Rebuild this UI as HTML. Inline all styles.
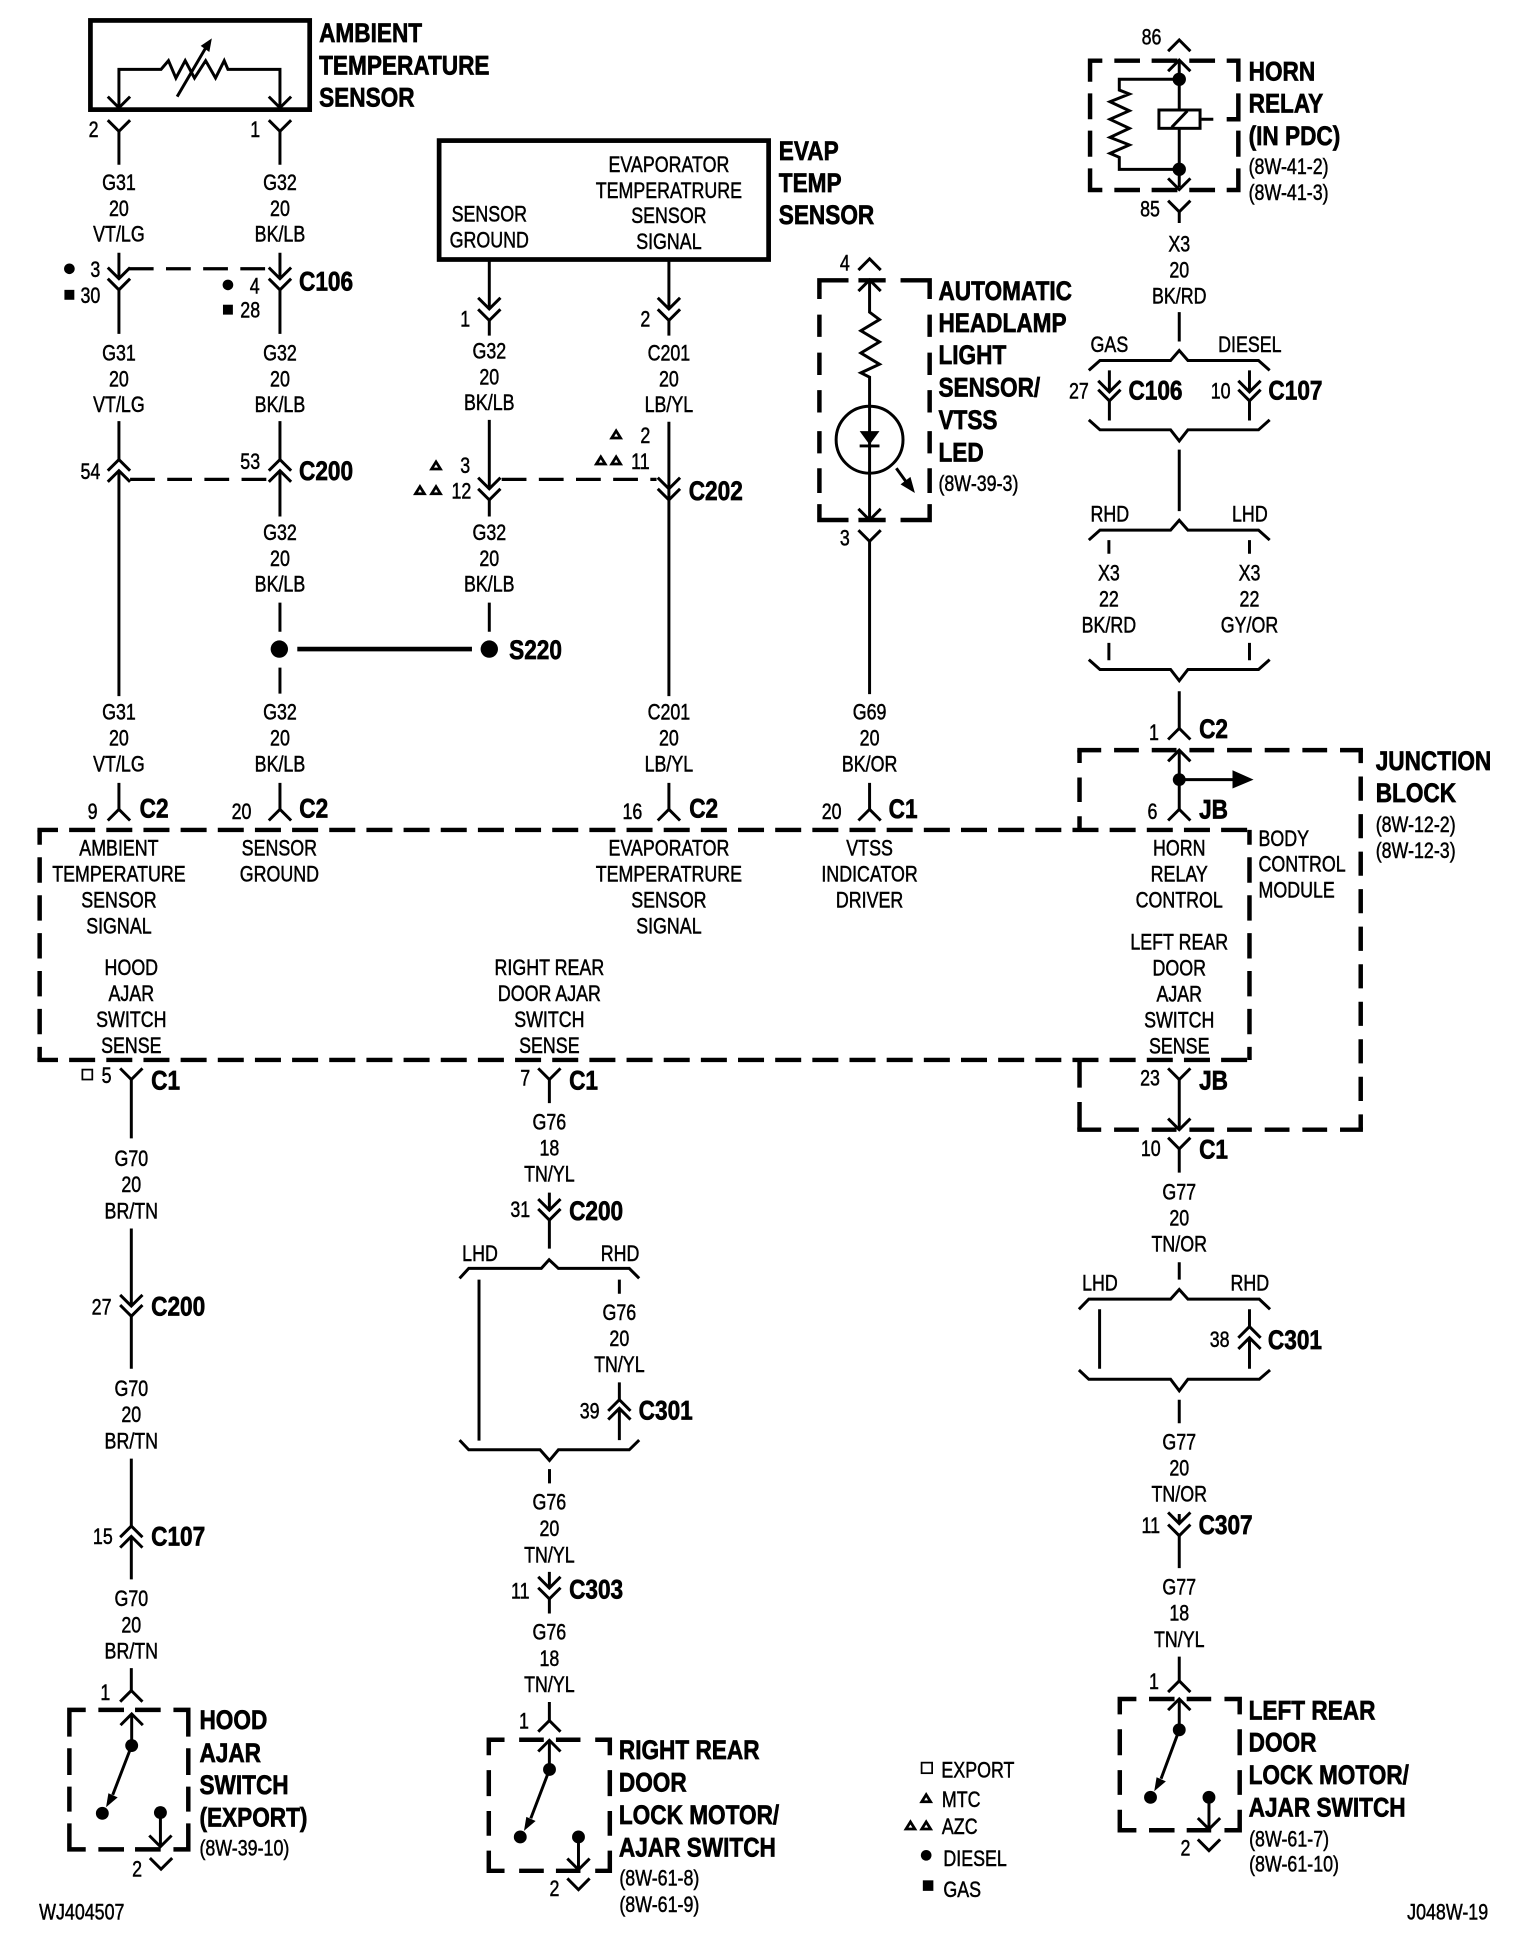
<!DOCTYPE html>
<html><head><meta charset="utf-8"><title>Wiring diagram</title>
<style>
html,body{margin:0;padding:0;background:#fff}
svg{display:block;width:1536px;height:1944px}
text{font-family:"Liberation Sans",sans-serif;font-size:18px;fill:#000;stroke:#000;stroke-width:.4}
.c{text-anchor:middle}
.b{font-weight:bold;font-size:22px;stroke-width:.55}
.w{fill:none;stroke:#000;stroke-width:2.4;stroke-linejoin:miter}
.k{fill:none;stroke:#000;stroke-width:3.8}
.e{fill:none;stroke:#000;stroke-width:3.6}
.s{fill:none;stroke:#000;stroke-width:2.6;stroke-dasharray:20 10}
</style></head><body>
<svg xmlns="http://www.w3.org/2000/svg" viewBox="0 0 1240 1569.4" width="1536" height="1944">
<defs>
<path id="v" class="w" d="M-9,-9L0,0L9,-9"/>
<path id="a" class="w" d="M-9,9L0,0L9,9"/>
<path id="t" d="M0,-3.2L3.6,2.6H-3.6Z" fill="#fff" stroke="#000" stroke-width="2.2"/>
<path id="bt" class="w" d="M-73,9L-64,1H-7L0,-7L7,1H64L73,9"/>
<path id="bb" class="w" d="M-73,-8L-64,0H-7L0,9L7,0H64L73,-8"/>
</defs>
<rect width="1240" height="1570" fill="#fff"/>

<!-- boxes -->
<rect x="73" y="16.5" width="177" height="72" class="k"/>
<rect x="354.5" y="113.5" width="266" height="96" class="k"/>
<!-- body control module -->
<path class="e" stroke-dasharray="21 9" stroke-dashoffset="4.4" d="M30.2,670H1010.5"/>
<path class="e" stroke-dasharray="21 9" stroke-dashoffset="4.4" d="M30.2,855.7H1010.5"/>
<path class="e" stroke-dasharray="20.5 10.1" stroke-dashoffset="8.5" d="M32,670V855.7"/>
<path class="e" stroke-dasharray="20.5 10.1" stroke-dashoffset="8.5" d="M1008.7,670V855.7"/>
<!-- junction block -->
<path class="e" stroke-dasharray="20 10.4" stroke-dashoffset=".7" d="M869.7,605.6H1100.3"/>
<path class="e" stroke-dasharray="20 10.4" stroke-dashoffset=".7" d="M869.7,912H1100.3"/>
<path class="e" stroke-dasharray="19.5 10.8" stroke-dashoffset="9" d="M1098.5,605.6V912"/>
<path class="e" d="M871.5,605.6V616M871.5,627.7V647.5M871.5,659V670M871.5,855.7V878M871.5,889.7V912"/>
<!-- horn relay box -->
<path class="e" d="M880,66V49H889.9M899.6,49H920.3M929.7,49H950.5M960.1,49H980.9M990.3,49H999.7V66
M880,75.4V96.3M999.7,75.4V96.3H990.3M880,105.5V126.5M999.7,105.5V126.5
M880,135.9V153.4H889.9M899.6,153.4H920.3M929.7,153.4H950.5M960.1,153.4H980.9M990.3,153.4H999.7V135.9"/>
<!-- headlamp box -->
<path class="e" d="M661.5,241.4V226.3H685M693,226.3H715M727,226.3H750.5V241.4
M661.5,254V272M750.5,254V272M661.5,284.7V302.7M750.5,284.7V302.7M661.5,315V333M750.5,315V333M661.5,348V366M750.5,348V366M661.5,378V398M750.5,378V398
M661.5,407V419.8H685M693,419.8H715M727,419.8H750.5V407"/>
<!-- hood switch box -->
<path class="e" d="M56,1402V1380.4H69.2M79.4,1380.4H100.1M109,1380.4H129.7M140,1380.4H152V1402
M56,1411.4V1433M152,1411.4V1433M56,1442.3V1462.5M152,1442.3V1462.5
M56,1472V1493H69.2M79.4,1493H100.1M109,1493H129.7M140,1493H152V1472"/>
<!-- right rear switch box -->
<path class="e" d="M394.6,1417V1404.5H407.3M419.1,1404.5H439M448.8,1404.5H468.6M480.5,1404.5H492.3V1417
M394.6,1429V1450M492.3,1429V1450M394.6,1462V1482M492.3,1462V1482
M394.6,1494V1510.3H407.3M419.1,1510.3H439M448.8,1510.3H468.6M480.5,1510.3H492.3V1494"/>
<!-- left rear switch box -->
<path class="e" d="M904,1384V1371.6H917.4M927.6,1371.6H948.2M958,1371.6H977.8M988.5,1371.6H1000.8V1384
M904,1396V1417M1000.8,1396V1417M904,1429V1449M1000.8,1429V1449
M904,1461V1477.6H917.4M927.6,1477.6H948.2M958,1477.6H977.8M988.5,1477.6H1000.8V1461"/>

<!-- dashed connector links -->
<path class="s" d="M104,217H219M105,387H216M405,387H530"/>

<!-- wires -->
<path class="w" d="M96,87V56H130L136,49L142,63L149.5,49L157,63L166,49L174,63L181,49L184,56H226V87
M96,106V133M96,204V225M96,234V269.5M96,340V371M96,380V562M96,632V653.4
M226,106V133M226,204V225M226,234V269.5M226,340V371M226,380V417M226,486.5V510M226,539V560M226,632V653.4
M395,210V249.4M395,258.7V271M395,339V394.6M395,403.6V417M395,486.5V510
M540,210V249.4M540,258.7V271M540,340.5V562M540,632V653.4
M702,226V252L710,258L695,267L710,276L695,285L710,294L695,301L702,304.5V420M702,437V560.4M702,632V653.4
M952,48.3V151M952,64H903.6V72.7L911.7,75.9L896.1,82.1L911.7,89.4L896.1,96.3L911.7,103.6L896.1,110.9L911.7,117L896.1,123.8L903.6,127V136.7H952
M970,96.3H979.5
M952,171V180M952,252V275.7
M895.6,299V316.4M895.6,323.6V339.5M1008.7,299V316.4M1008.7,323.6V339.5
M952,363V412.6M895.2,436V447M895.2,519V533M1008.7,436V447M1008.7,519V533
M952,558V588M952,605.6V653.4M952,629.4H996
M952,871.5V912M952,927.5V946.7M952,1019V1033M887.7,1057V1105M1008.7,1057V1071M1008.7,1080V1105M952,1130V1149
M952,1222.3V1230M952,1239.8V1266M952,1337.4V1357M952,1371.6V1396.5
M976,1451V1476.7
M106,871.5V919M106,991.8V1054.4M106,1062.6V1105M106,1177.6V1232M106,1240.4V1275M106,1346.7V1364.8M106.3,1383.7V1409M129.5,1463.3V1490.8
M443.5,871.5V890.6M443.5,962.8V977M443.5,985V1008M386.7,1033V1163M500,1033V1044.5M500,1116V1130M500,1137V1162.6M443.6,1186V1197.5
M443.5,1269V1282M443.5,1290.8V1302.6M443.5,1374V1389M443.5,1405V1428.5M467,1483V1509.4"/>
<!-- switch blades with arrowheads -->
<path class="w" d="M106.3,1409.2L91,1449M443.6,1428.5L428.5,1468M952,1396.5L937.3,1436"/>
<path d="M85.6,1459L87.5,1447.7L95,1451ZM423,1478.1L424.9,1466.8L432.4,1470.1ZM931.8,1446.1L933.7,1434.8L941.2,1438.1Z"/>
<path class="w" d="M143,78L167,37"/><path d="M171,31L162,37L169,42Z"/>
<circle cx="702" cy="355" r="27" class="w"/>
<path d="M694,348H710L702,359Z"/><path class="w" d="M694,360H710"/>
<path class="w" d="M723.6,378L733,391"/><path d="M738.6,398L727,391L735,385Z"/>
<rect x="935.6" y="88.8" width="33.2" height="14.8" fill="#fff" stroke="#000" stroke-width="2.4"/>
<path class="w" d="M945.9,102.8L958.5,89.6"/>
<path d="M995,621.8V636.6L1012,629.4Z"/>
<path class="k" d="M240,524H381"/>

<!-- dots -->
<g>
<circle cx="225.5" cy="524" r="7"/><circle cx="395" cy="524" r="7"/>
<circle cx="952" cy="64" r="5.4"/><circle cx="952" cy="136.7" r="5.4"/><circle cx="952" cy="629.4" r="5.2"/>
<circle cx="106.3" cy="1409.2" r="5.2"/><circle cx="82.6" cy="1463.9" r="5.2"/><circle cx="129.5" cy="1463.3" r="5.2"/>
<circle cx="443.6" cy="1428.5" r="5.2"/><circle cx="420" cy="1483" r="5.2"/><circle cx="467" cy="1483" r="5.2"/>
<circle cx="952" cy="1396.5" r="5.2"/><circle cx="928.8" cy="1451" r="5.2"/><circle cx="976" cy="1451" r="5.2"/>
<circle cx="56" cy="217" r="4.3"/><circle cx="184" cy="230" r="4.3"/>
<circle cx="747.7" cy="1497.8" r="4.3"/>
<rect x="52" y="234" width="8" height="8"/><rect x="180" y="246" width="8" height="8"/>
<rect x="745" y="1518" width="8.5" height="8.5"/>
</g>
<rect x="66.5" y="863.5" width="8" height="8" fill="#fff" stroke="#000" stroke-width="1.4"/>
<rect x="744" y="1423" width="8.5" height="8.5" fill="#fff" stroke="#000" stroke-width="1.4"/>
<use href="#t" x="352" y="376"/><use href="#t" x="339" y="396"/><use href="#t" x="352" y="396"/>
<use href="#t" x="497.4" y="351"/><use href="#t" x="485" y="372"/><use href="#t" x="497.4" y="372"/>
<use href="#t" x="747.7" y="1452"/><use href="#t" x="735" y="1474"/><use href="#t" x="747.7" y="1474"/>

<!-- chevrons -->
<use href="#v" x="96" y="87"/><use href="#v" x="226" y="87"/>
<use href="#v" x="96" y="106"/><use href="#v" x="226" y="106"/>
<use href="#v" x="96" y="225"/><use href="#v" x="96" y="234"/>
<use href="#v" x="226" y="225"/><use href="#v" x="226" y="234"/>
<use href="#a" x="96" y="371"/><use href="#a" x="96" y="380"/>
<use href="#a" x="226" y="371"/><use href="#a" x="226" y="380"/>
<use href="#v" x="395" y="249.4"/><use href="#v" x="395" y="258.7"/>
<use href="#v" x="540" y="249.4"/><use href="#v" x="540" y="258.7"/>
<use href="#v" x="395" y="394.6"/><use href="#v" x="395" y="403.6"/>
<use href="#v" x="540" y="394.6"/><use href="#v" x="540" y="403.6"/>
<use href="#a" x="96" y="653.4"/><use href="#a" x="226" y="653.4"/><use href="#a" x="540" y="653.4"/><use href="#a" x="702" y="653.4"/>
<use href="#a" x="952" y="653.4"/><use href="#a" x="952" y="588"/><use href="#a" x="952" y="605.6"/>
<use href="#a" x="702" y="209"/><use href="#a" x="702" y="226"/><use href="#v" x="702" y="419.8"/><use href="#v" x="702" y="437"/>
<use href="#a" x="952" y="32.3"/><use href="#a" x="952" y="48.5"/><use href="#v" x="952" y="153"/><use href="#v" x="952" y="171"/>
<use href="#v" x="895.6" y="316.4"/><use href="#v" x="895.6" y="323.6"/><use href="#v" x="1008.7" y="316.4"/><use href="#v" x="1008.7" y="323.6"/>
<use href="#v" x="106" y="871.5"/><use href="#v" x="443.5" y="871.5"/><use href="#v" x="952" y="871.5"/>
<use href="#v" x="952" y="912"/><use href="#v" x="952" y="927.5"/>
<use href="#v" x="443.5" y="977"/><use href="#v" x="443.5" y="985"/>
<use href="#v" x="106" y="1054.4"/><use href="#v" x="106" y="1062.6"/>
<use href="#a" x="106" y="1232"/><use href="#a" x="106" y="1240.4"/>
<use href="#a" x="106" y="1364.8"/><use href="#a" x="106.3" y="1383.7"/><use href="#v" x="129.5" y="1490.8"/><use href="#v" x="130" y="1509"/>
<use href="#a" x="500" y="1130"/><use href="#a" x="500" y="1137"/>
<use href="#v" x="443.5" y="1282"/><use href="#v" x="443.5" y="1290.8"/>
<use href="#a" x="443.5" y="1389"/><use href="#a" x="443.5" y="1405"/><use href="#v" x="467" y="1509.4"/><use href="#v" x="467" y="1525.5"/>
<use href="#a" x="1008.7" y="1071"/><use href="#a" x="1008.7" y="1080"/>
<use href="#v" x="952" y="1230"/><use href="#v" x="952" y="1239.8"/>
<use href="#a" x="952" y="1357"/><use href="#a" x="952" y="1371.6"/><use href="#v" x="976" y="1476.7"/><use href="#v" x="976" y="1494"/>

<!-- brackets -->
<use href="#bt" x="952" y="290"/><use href="#bb" x="952" y="347"/>
<use href="#bt" x="952" y="427"/><use href="#bb" x="952" y="540.5"/>
<path class="w" d="M371,1032L378.4,1024H437L443.3,1017L450.8,1024H508L516,1032"/>
<path class="w" d="M371,1162.6L378.4,1170.4H436L443.6,1179L450.8,1170.4H508L516,1162.6"/>
<path class="w" d="M871,1057L879,1048.8H945L952,1041L959,1048.8H1016.6L1025.3,1057"/>
<path class="w" d="M871,1106L879,1113.5H945L952,1122.8L959,1113.5H1016.6L1025.3,1106"/>

<!-- bold titles -->
<g>
<text class="b" transform="matrix(.83 0 0 1 257.6 34)">AMBIENT</text>
<text class="b" transform="matrix(.83 0 0 1 257.6 60)">TEMPERATURE</text>
<text class="b" transform="matrix(.83 0 0 1 257.6 86)">SENSOR</text>
<text class="b" transform="matrix(.83 0 0 1 628.7 129)">EVAP</text>
<text class="b" transform="matrix(.83 0 0 1 628.7 155)">TEMP</text>
<text class="b" transform="matrix(.83 0 0 1 628.7 181)">SENSOR</text>
<text class="b" transform="matrix(.83 0 0 1 757.6 242)">AUTOMATIC</text>
<text class="b" transform="matrix(.83 0 0 1 757.6 268)">HEADLAMP</text>
<text class="b" transform="matrix(.83 0 0 1 757.6 294)">LIGHT</text>
<text class="b" transform="matrix(.83 0 0 1 757.6 320)">SENSOR/</text>
<text class="b" transform="matrix(.83 0 0 1 757.6 346.4)">VTSS</text>
<text class="b" transform="matrix(.83 0 0 1 757.6 372.6)">LED</text>
<text class="b" transform="matrix(.83 0 0 1 1008 65)">HORN</text>
<text class="b" transform="matrix(.83 0 0 1 1008 91)">RELAY</text>
<text class="b" transform="matrix(.83 0 0 1 1008 117)">(IN PDC)</text>
<text class="b" transform="matrix(.83 0 0 1 1110.6 621.6)">JUNCTION</text>
<text class="b" transform="matrix(.83 0 0 1 1110.6 647.6)">BLOCK</text>
<text class="b" transform="matrix(.83 0 0 1 161 1396)">HOOD</text>
<text class="b" transform="matrix(.83 0 0 1 161 1422.4)">AJAR</text>
<text class="b" transform="matrix(.83 0 0 1 161 1448.4)">SWITCH</text>
<text class="b" transform="matrix(.83 0 0 1 161 1474.6)">(EXPORT)</text>
<text class="b" transform="matrix(.83 0 0 1 499.6 1420)">RIGHT REAR</text>
<text class="b" transform="matrix(.83 0 0 1 499.6 1446.2)">DOOR</text>
<text class="b" transform="matrix(.83 0 0 1 499.6 1472.4)">LOCK MOTOR/</text>
<text class="b" transform="matrix(.83 0 0 1 499.6 1498.6)">AJAR SWITCH</text>
<text class="b" transform="matrix(.83 0 0 1 1008 1388)">LEFT REAR</text>
<text class="b" transform="matrix(.83 0 0 1 1008 1414)">DOOR</text>
<text class="b" transform="matrix(.83 0 0 1 1008 1440.4)">LOCK MOTOR/</text>
<text class="b" transform="matrix(.83 0 0 1 1008 1466.4)">AJAR SWITCH</text>
<!-- connector ids -->
<text class="b" transform="matrix(.83 0 0 1 241.4 234.6)">C106</text>
<text class="b" transform="matrix(.83 0 0 1 241.4 387.5)">C200</text>
<text class="b" transform="matrix(.83 0 0 1 411 532)">S220</text>
<text class="b" transform="matrix(.83 0 0 1 556 403.7)">C202</text>
<text class="b" transform="matrix(.83 0 0 1 911 322.6)">C106</text>
<text class="b" transform="matrix(.83 0 0 1 1024 322.6)">C107</text>
<text class="b" transform="matrix(.83 0 0 1 968 595.6)">C2</text>
<text class="b" transform="matrix(.83 0 0 1 968 660.6)">JB</text>
<text class="b" transform="matrix(.83 0 0 1 112.7 660)">C2</text>
<text class="b" transform="matrix(.83 0 0 1 241.6 660)">C2</text>
<text class="b" transform="matrix(.83 0 0 1 556.4 660)">C2</text>
<text class="b" transform="matrix(.83 0 0 1 717.4 660.4)">C1</text>
<text class="b" transform="matrix(.83 0 0 1 122 879.5)">C1</text>
<text class="b" transform="matrix(.83 0 0 1 459.4 879.5)">C1</text>
<text class="b" transform="matrix(.83 0 0 1 968 879.5)">JB</text>
<text class="b" transform="matrix(.83 0 0 1 968 935.4)">C1</text>
<text class="b" transform="matrix(.83 0 0 1 459.4 985)">C200</text>
<text class="b" transform="matrix(.83 0 0 1 122 1062)">C200</text>
<text class="b" transform="matrix(.83 0 0 1 122 1247.6)">C107</text>
<text class="b" transform="matrix(.83 0 0 1 515.6 1146)">C301</text>
<text class="b" transform="matrix(.83 0 0 1 459.4 1290.6)">C303</text>
<text class="b" transform="matrix(.83 0 0 1 1023.6 1089)">C301</text>
<text class="b" transform="matrix(.83 0 0 1 967.6 1238.6)">C307</text>
</g>

<!-- wire labels -->
<g>
<text class="c" transform="matrix(.8 0 0 1 96 153.5)"><tspan x="0">G31</tspan><tspan x="0" dy="21">20</tspan><tspan x="0" dy="20.5">VT/LG</tspan></text>
<text class="c" transform="matrix(.8 0 0 1 226 153.5)"><tspan x="0">G32</tspan><tspan x="0" dy="21">20</tspan><tspan x="0" dy="20.5">BK/LB</tspan></text>
<text class="c" transform="matrix(.8 0 0 1 96 291)"><tspan x="0">G31</tspan><tspan x="0" dy="21">20</tspan><tspan x="0" dy="20.5">VT/LG</tspan></text>
<text class="c" transform="matrix(.8 0 0 1 226 291)"><tspan x="0">G32</tspan><tspan x="0" dy="21">20</tspan><tspan x="0" dy="20.5">BK/LB</tspan></text>
<text class="c" transform="matrix(.8 0 0 1 226 436)"><tspan x="0">G32</tspan><tspan x="0" dy="21">20</tspan><tspan x="0" dy="20.5">BK/LB</tspan></text>
<text class="c" transform="matrix(.8 0 0 1 395 289.5)"><tspan x="0">G32</tspan><tspan x="0" dy="21">20</tspan><tspan x="0" dy="20.5">BK/LB</tspan></text>
<text class="c" transform="matrix(.8 0 0 1 395 436)"><tspan x="0">G32</tspan><tspan x="0" dy="21">20</tspan><tspan x="0" dy="20.5">BK/LB</tspan></text>
<text class="c" transform="matrix(.8 0 0 1 540 291)"><tspan x="0">C201</tspan><tspan x="0" dy="21">20</tspan><tspan x="0" dy="20.5">LB/YL</tspan></text>
<text class="c" transform="matrix(.8 0 0 1 96 581)"><tspan x="0">G31</tspan><tspan x="0" dy="21">20</tspan><tspan x="0" dy="21">VT/LG</tspan></text>
<text class="c" transform="matrix(.8 0 0 1 226 581)"><tspan x="0">G32</tspan><tspan x="0" dy="21">20</tspan><tspan x="0" dy="21">BK/LB</tspan></text>
<text class="c" transform="matrix(.8 0 0 1 540 581)"><tspan x="0">C201</tspan><tspan x="0" dy="21">20</tspan><tspan x="0" dy="21">LB/YL</tspan></text>
<text class="c" transform="matrix(.8 0 0 1 702 581)"><tspan x="0">G69</tspan><tspan x="0" dy="21">20</tspan><tspan x="0" dy="21">BK/OR</tspan></text>
<text class="c" transform="matrix(.8 0 0 1 952 203)"><tspan x="0">X3</tspan><tspan x="0" dy="21">20</tspan><tspan x="0" dy="21">BK/RD</tspan></text>
<text class="c" transform="matrix(.8 0 0 1 895.2 468.5)"><tspan x="0">X3</tspan><tspan x="0" dy="21">22</tspan><tspan x="0" dy="21">BK/RD</tspan></text>
<text class="c" transform="matrix(.8 0 0 1 1008.7 468.5)"><tspan x="0">X3</tspan><tspan x="0" dy="21">22</tspan><tspan x="0" dy="21">GY/OR</tspan></text>
<text class="c" transform="matrix(.8 0 0 1 106 941.5)"><tspan x="0">G70</tspan><tspan x="0" dy="21">20</tspan><tspan x="0" dy="21">BR/TN</tspan></text>
<text class="c" transform="matrix(.8 0 0 1 106 1127)"><tspan x="0">G70</tspan><tspan x="0" dy="21">20</tspan><tspan x="0" dy="21.5">BR/TN</tspan></text>
<text class="c" transform="matrix(.8 0 0 1 106 1296.5)"><tspan x="0">G70</tspan><tspan x="0" dy="21.5">20</tspan><tspan x="0" dy="21">BR/TN</tspan></text>
<text class="c" transform="matrix(.8 0 0 1 443.5 912)"><tspan x="0">G76</tspan><tspan x="0" dy="21">18</tspan><tspan x="0" dy="21">TN/YL</tspan></text>
<text class="c" transform="matrix(.8 0 0 1 500 1065.5)"><tspan x="0">G76</tspan><tspan x="0" dy="21">20</tspan><tspan x="0" dy="21">TN/YL</tspan></text>
<text class="c" transform="matrix(.8 0 0 1 443.5 1218.5)"><tspan x="0">G76</tspan><tspan x="0" dy="21.5">20</tspan><tspan x="0" dy="21.5">TN/YL</tspan></text>
<text class="c" transform="matrix(.8 0 0 1 443.5 1323.5)"><tspan x="0">G76</tspan><tspan x="0" dy="21.5">18</tspan><tspan x="0" dy="21">TN/YL</tspan></text>
<text class="c" transform="matrix(.8 0 0 1 952 968.5)"><tspan x="0">G77</tspan><tspan x="0" dy="21">20</tspan><tspan x="0" dy="21">TN/OR</tspan></text>
<text class="c" transform="matrix(.8 0 0 1 952 1170)"><tspan x="0">G77</tspan><tspan x="0" dy="21">20</tspan><tspan x="0" dy="21">TN/OR</tspan></text>
<text class="c" transform="matrix(.8 0 0 1 952 1287.3)"><tspan x="0">G77</tspan><tspan x="0" dy="21">18</tspan><tspan x="0" dy="21.5">TN/YL</tspan></text>

<!-- module text -->
<text class="c" transform="matrix(.8 0 0 1 540 139)"><tspan x="0">EVAPORATOR</tspan><tspan x="0" dy="21">TEMPERATRURE</tspan><tspan x="0" dy="20">SENSOR</tspan><tspan x="0" dy="21">SIGNAL</tspan></text>
<text class="c" transform="matrix(.8 0 0 1 395 179)"><tspan x="0">SENSOR</tspan><tspan x="0" dy="21">GROUND</tspan></text>
<text class="c" transform="matrix(.8 0 0 1 96 690.5)"><tspan x="0">AMBIENT</tspan><tspan x="0" dy="21">TEMPERATURE</tspan><tspan x="0" dy="21">SENSOR</tspan><tspan x="0" dy="21">SIGNAL</tspan></text>
<text class="c" transform="matrix(.8 0 0 1 225.5 690.5)"><tspan x="0">SENSOR</tspan><tspan x="0" dy="21">GROUND</tspan></text>
<text class="c" transform="matrix(.8 0 0 1 540 690.5)"><tspan x="0">EVAPORATOR</tspan><tspan x="0" dy="21">TEMPERATRURE</tspan><tspan x="0" dy="21">SENSOR</tspan><tspan x="0" dy="21">SIGNAL</tspan></text>
<text class="c" transform="matrix(.8 0 0 1 702 690.5)"><tspan x="0">VTSS</tspan><tspan x="0" dy="21">INDICATOR</tspan><tspan x="0" dy="21">DRIVER</tspan></text>
<text class="c" transform="matrix(.8 0 0 1 952 690.5)"><tspan x="0">HORN</tspan><tspan x="0" dy="21">RELAY</tspan><tspan x="0" dy="21">CONTROL</tspan></text>
<text class="c" transform="matrix(.8 0 0 1 106 787)"><tspan x="0">HOOD</tspan><tspan x="0" dy="21">AJAR</tspan><tspan x="0" dy="21">SWITCH</tspan><tspan x="0" dy="21">SENSE</tspan></text>
<text class="c" transform="matrix(.8 0 0 1 443.5 787)"><tspan x="0">RIGHT REAR</tspan><tspan x="0" dy="21">DOOR AJAR</tspan><tspan x="0" dy="21">SWITCH</tspan><tspan x="0" dy="21">SENSE</tspan></text>
<text class="c" transform="matrix(.8 0 0 1 952 766.5)"><tspan x="0">LEFT REAR</tspan><tspan x="0" dy="21">DOOR</tspan><tspan x="0" dy="21">AJAR</tspan><tspan x="0" dy="21">SWITCH</tspan><tspan x="0" dy="21">SENSE</tspan></text>
<!-- bracket labels -->
<text class="c" transform="matrix(.8 0 0 1 895.6 284)">GAS</text>
<text class="c" transform="matrix(.8 0 0 1 1009 284)">DIESEL</text>
<text class="c" transform="matrix(.8 0 0 1 896 421)">RHD</text>
<text class="c" transform="matrix(.8 0 0 1 1009 421)">LHD</text>
<text class="c" transform="matrix(.8 0 0 1 387.5 1018)">LHD</text>
<text class="c" transform="matrix(.8 0 0 1 500.6 1018)">RHD</text>
<text class="c" transform="matrix(.8 0 0 1 888 1042)">LHD</text>
<text class="c" transform="matrix(.8 0 0 1 1009 1042)">RHD</text>
<!-- pin numbers -->
<text class="c" transform="matrix(.8 0 0 1 75.5 110.5)">2</text>
<text class="c" transform="matrix(.8 0 0 1 206 110.5)">1</text>
<text class="c" transform="matrix(.8 0 0 1 77 223.5)">3</text>
<text class="c" transform="matrix(.8 0 0 1 73 244.5)">30</text>
<text class="c" transform="matrix(.8 0 0 1 205.6 237)">4</text>
<text class="c" transform="matrix(.8 0 0 1 202 256.5)">28</text>
<text class="c" transform="matrix(.8 0 0 1 73 386.5)">54</text>
<text class="c" transform="matrix(.8 0 0 1 202 378.5)">53</text>
<text class="c" transform="matrix(.8 0 0 1 375.6 263.5)">1</text>
<text class="c" transform="matrix(.8 0 0 1 521 263.5)">2</text>
<text class="c" transform="matrix(.8 0 0 1 375.6 382)">3</text>
<text class="c" transform="matrix(.8 0 0 1 372.5 402.5)">12</text>
<text class="c" transform="matrix(.8 0 0 1 521 357.5)">2</text>
<text class="c" transform="matrix(.8 0 0 1 517 378.5)">11</text>
<text class="c" transform="matrix(.8 0 0 1 682 218.5)">4</text>
<text class="c" transform="matrix(.8 0 0 1 682 440.5)">3</text>
<text class="c" transform="matrix(.8 0 0 1 929.6 36)">86</text>
<text class="c" transform="matrix(.8 0 0 1 928.4 174.8)">85</text>
<text class="c" transform="matrix(.8 0 0 1 871 321.8)">27</text>
<text class="c" transform="matrix(.8 0 0 1 985.4 321.8)">10</text>
<text class="c" transform="matrix(.8 0 0 1 74.7 661)">9</text>
<text class="c" transform="matrix(.8 0 0 1 195 661)">20</text>
<text class="c" transform="matrix(.8 0 0 1 510.5 661)">16</text>
<text class="c" transform="matrix(.8 0 0 1 671.4 661)">20</text>
<text class="c" transform="matrix(.8 0 0 1 931.6 597.3)">1</text>
<text class="c" transform="matrix(.8 0 0 1 930.4 661)">6</text>
<text class="c" transform="matrix(.8 0 0 1 86 874.5)">5</text>
<text class="c" transform="matrix(.8 0 0 1 424 876.5)">7</text>
<text class="c" transform="matrix(.8 0 0 1 928.4 876.5)">23</text>
<text class="c" transform="matrix(.8 0 0 1 929 933.4)">10</text>
<text class="c" transform="matrix(.8 0 0 1 420 982.5)">31</text>
<text class="c" transform="matrix(.8 0 0 1 82 1061)">27</text>
<text class="c" transform="matrix(.8 0 0 1 476 1145)">39</text>
<text class="c" transform="matrix(.8 0 0 1 984.6 1087.5)">38</text>
<text class="c" transform="matrix(.8 0 0 1 83 1246.5)">15</text>
<text class="c" transform="matrix(.8 0 0 1 929 1237.5)">11</text>
<text class="c" transform="matrix(.8 0 0 1 420 1290.5)">11</text>
<text class="c" transform="matrix(.8 0 0 1 85 1372.5)">1</text>
<text class="c" transform="matrix(.8 0 0 1 423 1395.5)">1</text>
<text class="c" transform="matrix(.8 0 0 1 931.6 1363.5)">1</text>
<text class="c" transform="matrix(.8 0 0 1 110.7 1515)">2</text>
<text class="c" transform="matrix(.8 0 0 1 447.6 1530.5)">2</text>
<text class="c" transform="matrix(.8 0 0 1 957 1498)">2</text>
</g>
<!-- left aligned regular -->
<text transform="matrix(.8 0 0 1 757.6 396.5)">(8W-39-3)</text>
<text transform="matrix(.8 0 0 1 1008 140.5)">(8W-41-2)</text>
<text transform="matrix(.8 0 0 1 1008 161.5)">(8W-41-3)</text>
<text transform="matrix(.8 0 0 1 1016 683)">BODY</text>
<text transform="matrix(.8 0 0 1 1016 703.6)">CONTROL</text>
<text transform="matrix(.8 0 0 1 1016 724.4)">MODULE</text>
<text transform="matrix(.8 0 0 1 1110.6 671.5)">(8W-12-2)</text>
<text transform="matrix(.8 0 0 1 1110.6 692.5)">(8W-12-3)</text>
<text transform="matrix(.8 0 0 1 161 1498)">(8W-39-10)</text>
<text transform="matrix(.8 0 0 1 500 1522)">(8W-61-8)</text>
<text transform="matrix(.8 0 0 1 500 1543.5)">(8W-61-9)</text>
<text transform="matrix(.8 0 0 1 1008.4 1490.6)">(8W-61-7)</text>
<text transform="matrix(.8 0 0 1 1008.4 1511)">(8W-61-10)</text>
<text transform="matrix(.8 0 0 1 760 1435)">EXPORT</text>
<text transform="matrix(.8 0 0 1 760.4 1459)">MTC</text>
<text transform="matrix(.8 0 0 1 760.4 1480.6)">AZC</text>
<text transform="matrix(.8 0 0 1 761.6 1506.4)">DIESEL</text>
<text transform="matrix(.8 0 0 1 761.6 1531.6)">GAS</text>
<text transform="matrix(.8 0 0 1 31.6 1549.6)">WJ404507</text>
<text transform="matrix(.8 0 0 1 1136 1549.6)">J048W-19</text>
</svg>
</body></html>
